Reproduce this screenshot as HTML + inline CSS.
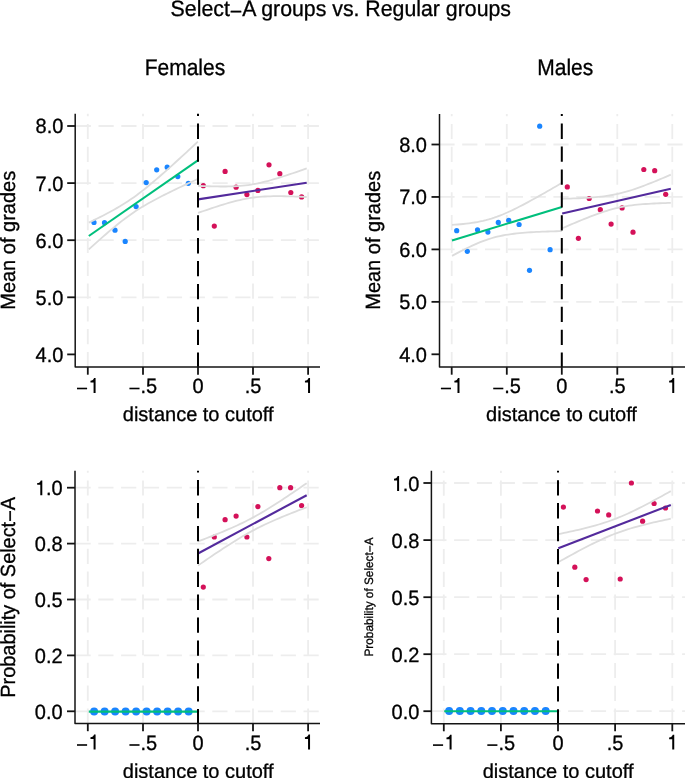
<!DOCTYPE html>
<html><head><meta charset="utf-8"><style>html,body{margin:0;padding:0;background:#fff;overflow:hidden}svg{display:block;will-change:transform}text{stroke:#000;stroke-width:0.3px}</style></head>
<body>
<svg width="685" height="778" viewBox="0 0 685 778" text-rendering="geometricPrecision" font-family='"Liberation Sans", sans-serif' fill="#000">
<rect width="685" height="778" fill="#fff"/>
<text transform="translate(340.8,16.3) scale(1,1.04)" x="0" y="0" text-anchor="middle" font-size="21.3">Select<tspan dy="2.4">&#8722;</tspan><tspan dy="-2.4">A groups vs. Regular groups</tspan></text>
<text transform="translate(184.9,74.9) scale(1,1.08)" text-anchor="middle" font-size="21">Females</text>
<text transform="translate(565.25,74.9) scale(1,1.08)" text-anchor="middle" font-size="21">Males</text>
<line x1="75.7" y1="126.0" x2="320" y2="126.0" stroke="#ededed" stroke-width="1.8" stroke-dasharray="15.2 7.6"/>
<line x1="75.7" y1="183.1" x2="320" y2="183.1" stroke="#ededed" stroke-width="1.8" stroke-dasharray="15.2 7.6"/>
<line x1="75.7" y1="240.2" x2="320" y2="240.2" stroke="#ededed" stroke-width="1.8" stroke-dasharray="15.2 7.6"/>
<line x1="75.7" y1="297.3" x2="320" y2="297.3" stroke="#ededed" stroke-width="1.8" stroke-dasharray="15.2 7.6"/>
<line x1="87.8" y1="367.1" x2="87.8" y2="113.7" stroke="#ededed" stroke-width="1.8" stroke-dasharray="15.2 7.6"/>
<line x1="143.0" y1="367.1" x2="143.0" y2="113.7" stroke="#ededed" stroke-width="1.8" stroke-dasharray="15.2 7.6"/>
<line x1="253.0" y1="367.1" x2="253.0" y2="113.7" stroke="#ededed" stroke-width="1.8" stroke-dasharray="15.2 7.6"/>
<line x1="308.1" y1="367.1" x2="308.1" y2="113.7" stroke="#ededed" stroke-width="1.8" stroke-dasharray="15.2 7.6"/>
<circle cx="94.0" cy="222.4" r="2.6" fill="#1a85ff"/>
<circle cx="104.5" cy="222.7" r="2.6" fill="#1a85ff"/>
<circle cx="115.0" cy="230.2" r="2.6" fill="#1a85ff"/>
<circle cx="125.2" cy="241.4" r="2.6" fill="#1a85ff"/>
<circle cx="136.1" cy="206.6" r="2.6" fill="#1a85ff"/>
<circle cx="146.2" cy="182.6" r="2.6" fill="#1a85ff"/>
<circle cx="156.7" cy="169.8" r="2.6" fill="#1a85ff"/>
<circle cx="167.2" cy="167.2" r="2.6" fill="#1a85ff"/>
<circle cx="177.8" cy="176.6" r="2.6" fill="#1a85ff"/>
<circle cx="188.3" cy="183.3" r="2.6" fill="#1a85ff"/>
<circle cx="203.3" cy="185.7" r="2.6" fill="#d41159"/>
<circle cx="214.3" cy="226.1" r="2.6" fill="#d41159"/>
<circle cx="225.1" cy="171.4" r="2.6" fill="#d41159"/>
<circle cx="236.1" cy="187.2" r="2.6" fill="#d41159"/>
<circle cx="246.9" cy="194.6" r="2.6" fill="#d41159"/>
<circle cx="257.9" cy="190.4" r="2.6" fill="#d41159"/>
<circle cx="269.0" cy="164.8" r="2.6" fill="#d41159"/>
<circle cx="279.8" cy="173.7" r="2.6" fill="#d41159"/>
<circle cx="290.8" cy="192.5" r="2.6" fill="#d41159"/>
<circle cx="301.6" cy="196.9" r="2.6" fill="#d41159"/>
<polyline points="88.80,222.61 91.60,221.26 94.39,219.90 97.19,218.52 99.99,217.12 102.79,215.70 105.58,214.25 108.38,212.78 111.18,211.27 113.98,209.72 116.77,208.14 119.57,206.50 122.37,204.81 125.17,203.06 127.96,201.25 130.76,199.36 133.56,197.41 136.36,195.40 139.15,193.31 141.95,191.16 144.75,188.95 147.55,186.70 150.34,184.39 153.14,182.04 155.94,179.66 158.74,177.24 161.53,174.80 164.33,172.33 167.13,169.84 169.93,167.34 172.72,164.81 175.52,162.28 178.32,159.73 181.12,157.18 183.91,154.61 186.71,152.04 189.51,149.46 192.31,146.87 195.10,144.27 197.90,141.68" fill="none" stroke="#dcdcdc" stroke-width="1.8"/>
<polyline points="88.80,249.39 91.60,246.86 94.39,244.34 97.19,241.84 99.99,239.35 102.79,236.89 105.58,234.46 108.38,232.05 111.18,229.67 113.98,227.34 116.77,225.04 119.57,222.80 122.37,220.61 125.17,218.47 127.96,216.41 130.76,214.40 133.56,212.47 136.36,210.61 139.15,208.81 141.95,207.08 144.75,205.40 147.55,203.78 150.34,202.21 153.14,200.67 155.94,199.17 158.74,197.71 161.53,196.27 164.33,194.86 167.13,193.46 169.93,192.08 172.72,190.72 175.52,189.38 178.32,188.04 181.12,186.72 183.91,185.40 186.71,184.09 189.51,182.79 192.31,181.50 195.10,180.21 197.90,178.92" fill="none" stroke="#dcdcdc" stroke-width="1.8"/>
<polyline points="198.00,185.86 200.79,185.98 203.57,186.09 206.36,186.18 209.15,186.27 211.94,186.35 214.72,186.41 217.51,186.46 220.30,186.49 223.08,186.50 225.87,186.49 228.66,186.45 231.45,186.38 234.23,186.27 237.02,186.12 239.81,185.93 242.59,185.69 245.38,185.40 248.17,185.05 250.96,184.64 253.74,184.17 256.53,183.64 259.32,183.06 262.11,182.42 264.89,181.74 267.68,181.01 270.47,180.25 273.25,179.45 276.04,178.63 278.83,177.77 281.62,176.90 284.40,176.01 287.19,175.09 289.98,174.17 292.76,173.23 295.55,172.28 298.34,171.32 301.13,170.36 303.91,169.38 306.70,168.40" fill="none" stroke="#dcdcdc" stroke-width="1.8"/>
<polyline points="198.00,212.94 200.79,211.96 203.57,211.00 206.36,210.05 209.15,209.10 211.94,208.17 214.72,207.25 217.51,206.34 220.30,205.46 223.08,204.59 225.87,203.75 228.66,202.93 231.45,202.15 234.23,201.40 237.02,200.69 239.81,200.02 242.59,199.40 245.38,198.84 248.17,198.34 250.96,197.89 253.74,197.50 256.53,197.17 259.32,196.90 262.11,196.68 264.89,196.51 267.68,196.38 270.47,196.28 273.25,196.22 276.04,196.19 278.83,196.19 281.62,196.21 284.40,196.25 287.19,196.30 289.98,196.37 292.76,196.45 295.55,196.54 298.34,196.64 301.13,196.76 303.91,196.87 306.70,197.00" fill="none" stroke="#dcdcdc" stroke-width="1.8"/>
<line x1="88.8" y1="236.0" x2="197.9" y2="160.3" stroke="#00bf7c" stroke-width="2.1"/>
<line x1="198.0" y1="199.4" x2="306.7" y2="182.7" stroke="#532a9c" stroke-width="2.1"/>
<line x1="198.0" y1="367.1" x2="198.0" y2="113.7" stroke="#000" stroke-width="2.0" stroke-dasharray="15.3 7.6" stroke-dashoffset="0.8"/>
<polyline points="75.2,113.7 75.2,367.1 320,367.1" fill="none" stroke="#141414" stroke-width="1.5" stroke-linejoin="round"/>
<line x1="67.2" y1="126.0" x2="75.2" y2="126.0" stroke="#141414" stroke-width="1.8"/>
<text transform="translate(63.4,133.4) scale(1,1.035)" text-anchor="end" font-size="20">8.0</text>
<line x1="67.2" y1="183.1" x2="75.2" y2="183.1" stroke="#141414" stroke-width="1.8"/>
<text transform="translate(63.4,190.5) scale(1,1.035)" text-anchor="end" font-size="20">7.0</text>
<line x1="67.2" y1="240.2" x2="75.2" y2="240.2" stroke="#141414" stroke-width="1.8"/>
<text transform="translate(63.4,247.6) scale(1,1.035)" text-anchor="end" font-size="20">6.0</text>
<line x1="67.2" y1="297.3" x2="75.2" y2="297.3" stroke="#141414" stroke-width="1.8"/>
<text transform="translate(63.4,304.7) scale(1,1.035)" text-anchor="end" font-size="20">5.0</text>
<line x1="67.2" y1="354.4" x2="75.2" y2="354.4" stroke="#141414" stroke-width="1.8"/>
<text transform="translate(63.4,361.79999999999995) scale(1,1.035)" text-anchor="end" font-size="20">4.0</text>
<line x1="87.8" y1="367.1" x2="87.8" y2="374.70000000000005" stroke="#141414" stroke-width="1.8"/>
<text transform="translate(87.8,393.0) scale(1,1.035)" text-anchor="middle" font-size="20"><tspan style="fill:none;stroke:none">&#8722;</tspan><tspan style="fill:none;stroke:none">1</tspan></text>
<path transform="translate(76.40,393.0)" d="M0.6-5.3h10.1v1.6h-10.1Z"/>
<path transform="translate(88.08,393.0) scale(1,1.035)" d="M7.5 0L5.5 0L5.5-10.1L2.4-10.1L2.4-11.8C4.2-11.9 5.6-12.9 6.0-14.4L7.5-14.4Z"/>
<line x1="143.0" y1="367.1" x2="143.0" y2="374.70000000000005" stroke="#141414" stroke-width="1.8"/>
<text transform="translate(143.0,393.0) scale(1,1.035)" text-anchor="middle" font-size="20"><tspan style="fill:none;stroke:none">&#8722;</tspan>.5</text>
<path transform="translate(128.82,393.0)" d="M0.6-5.3h10.1v1.6h-10.1Z"/>
<line x1="198.0" y1="367.1" x2="198.0" y2="374.70000000000005" stroke="#141414" stroke-width="1.8"/>
<text transform="translate(198.0,393.0) scale(1,1.035)" text-anchor="middle" font-size="20">0</text>
<line x1="253.0" y1="367.1" x2="253.0" y2="374.70000000000005" stroke="#141414" stroke-width="1.8"/>
<text transform="translate(253.0,393.0) scale(1,1.035)" text-anchor="middle" font-size="20">.5</text>
<line x1="308.1" y1="367.1" x2="308.1" y2="374.70000000000005" stroke="#141414" stroke-width="1.8"/>
<text transform="translate(308.1,393.0) scale(1,1.035)" text-anchor="middle" font-size="20"><tspan style="fill:none;stroke:none">1</tspan></text>
<path transform="translate(302.54,393.0) scale(1,1.035)" d="M7.5 0L5.5 0L5.5-10.1L2.4-10.1L2.4-11.8C4.2-11.9 5.6-12.9 6.0-14.4L7.5-14.4Z"/>
<text x="198.2" y="420.8" text-anchor="middle" font-size="20">distance to cutoff</text>
<text transform="translate(14.9,240.3) rotate(-90) scale(1,1.03)" x="0" y="0" text-anchor="middle" font-size="20">Mean of grades</text>
<line x1="439.4" y1="144.5" x2="685" y2="144.5" stroke="#ededed" stroke-width="1.8" stroke-dasharray="15.2 7.6"/>
<line x1="439.4" y1="196.95" x2="685" y2="196.95" stroke="#ededed" stroke-width="1.8" stroke-dasharray="15.2 7.6"/>
<line x1="439.4" y1="249.4" x2="685" y2="249.4" stroke="#ededed" stroke-width="1.8" stroke-dasharray="15.2 7.6"/>
<line x1="439.4" y1="301.85" x2="685" y2="301.85" stroke="#ededed" stroke-width="1.8" stroke-dasharray="15.2 7.6"/>
<line x1="451.7" y1="367.1" x2="451.7" y2="114.1" stroke="#ededed" stroke-width="1.8" stroke-dasharray="15.2 7.6"/>
<line x1="506.8" y1="367.1" x2="506.8" y2="114.1" stroke="#ededed" stroke-width="1.8" stroke-dasharray="15.2 7.6"/>
<line x1="617.3" y1="367.1" x2="617.3" y2="114.1" stroke="#ededed" stroke-width="1.8" stroke-dasharray="15.2 7.6"/>
<line x1="672.3" y1="367.1" x2="672.3" y2="114.1" stroke="#ededed" stroke-width="1.8" stroke-dasharray="15.2 7.6"/>
<circle cx="456.7" cy="230.7" r="2.6" fill="#1a85ff"/>
<circle cx="467.3" cy="251.3" r="2.6" fill="#1a85ff"/>
<circle cx="477.5" cy="229.8" r="2.6" fill="#1a85ff"/>
<circle cx="487.9" cy="232.1" r="2.6" fill="#1a85ff"/>
<circle cx="498.3" cy="222.4" r="2.6" fill="#1a85ff"/>
<circle cx="508.7" cy="220.3" r="2.6" fill="#1a85ff"/>
<circle cx="519.1" cy="224.5" r="2.6" fill="#1a85ff"/>
<circle cx="529.5" cy="270.3" r="2.6" fill="#1a85ff"/>
<circle cx="539.7" cy="126.2" r="2.6" fill="#1a85ff"/>
<circle cx="550.1" cy="249.7" r="2.6" fill="#1a85ff"/>
<circle cx="567.3" cy="186.9" r="2.6" fill="#d41159"/>
<circle cx="578.4" cy="238.3" r="2.6" fill="#d41159"/>
<circle cx="589.2" cy="198.5" r="2.6" fill="#d41159"/>
<circle cx="600.3" cy="209.7" r="2.6" fill="#d41159"/>
<circle cx="611.1" cy="224.1" r="2.6" fill="#d41159"/>
<circle cx="622.1" cy="207.9" r="2.6" fill="#d41159"/>
<circle cx="633.0" cy="232.2" r="2.6" fill="#d41159"/>
<circle cx="643.8" cy="169.5" r="2.6" fill="#d41159"/>
<circle cx="654.7" cy="170.7" r="2.6" fill="#d41159"/>
<circle cx="665.7" cy="194.3" r="2.6" fill="#d41159"/>
<polyline points="452.00,224.90 454.82,224.71 457.64,224.49 460.45,224.25 463.27,223.98 466.09,223.67 468.91,223.33 471.73,222.95 474.54,222.51 477.36,222.02 480.18,221.47 483.00,220.86 485.82,220.17 488.63,219.41 491.45,218.57 494.27,217.66 497.09,216.67 499.91,215.60 502.72,214.47 505.54,213.28 508.36,212.03 511.18,210.72 513.99,209.37 516.81,207.98 519.63,206.56 522.45,205.10 525.27,203.62 528.08,202.11 530.90,200.58 533.72,199.03 536.54,197.47 539.36,195.89 542.17,194.30 544.99,192.69 547.81,191.08 550.63,189.46 553.45,187.83 556.26,186.19 559.08,184.55 561.90,182.90" fill="none" stroke="#dcdcdc" stroke-width="1.8"/>
<polyline points="452.00,255.90 454.82,254.38 457.64,252.88 460.45,251.41 463.27,249.97 466.09,248.56 468.91,247.19 471.73,245.87 474.54,244.59 477.36,243.36 480.18,242.20 483.00,241.10 485.82,240.08 488.63,239.13 491.45,238.25 494.27,237.45 497.09,236.73 499.91,236.08 502.72,235.50 505.54,234.98 508.36,234.52 511.18,234.11 513.99,233.74 516.81,233.42 519.63,233.13 522.45,232.88 525.27,232.65 528.08,232.44 530.90,232.26 533.72,232.10 536.54,231.95 539.36,231.81 542.17,231.69 544.99,231.58 547.81,231.48 550.63,231.39 553.45,231.31 556.26,231.23 559.08,231.16 561.90,231.10" fill="none" stroke="#dcdcdc" stroke-width="1.8"/>
<polyline points="562.20,198.75 564.98,198.68 567.77,198.61 570.55,198.53 573.34,198.44 576.12,198.34 578.91,198.23 581.69,198.10 584.48,197.96 587.26,197.80 590.05,197.62 592.83,197.42 595.62,197.19 598.40,196.93 601.18,196.64 603.97,196.30 606.75,195.92 609.54,195.49 612.32,195.01 615.11,194.47 617.89,193.87 620.68,193.21 623.46,192.49 626.25,191.72 629.03,190.89 631.82,190.01 634.60,189.08 637.38,188.12 640.17,187.12 642.95,186.08 645.74,185.02 648.52,183.94 651.31,182.83 654.09,181.71 656.88,180.57 659.66,179.42 662.45,178.25 665.23,177.08 668.02,175.89 670.80,174.70" fill="none" stroke="#dcdcdc" stroke-width="1.8"/>
<polyline points="562.20,228.25 564.98,227.05 567.77,225.85 570.55,224.67 573.34,223.49 576.12,222.33 578.91,221.17 581.69,220.03 584.48,218.90 587.26,217.80 590.05,216.71 592.83,215.65 595.62,214.61 598.40,213.60 601.18,212.63 603.97,211.70 606.75,210.81 609.54,209.98 612.32,209.19 615.11,208.46 617.89,207.80 620.68,207.19 623.46,206.64 626.25,206.15 629.03,205.71 631.82,205.33 634.60,204.98 637.38,204.68 640.17,204.42 642.95,204.18 645.74,203.98 648.52,203.80 651.31,203.63 654.09,203.49 656.88,203.36 659.66,203.25 662.45,203.15 665.23,203.06 668.02,202.97 670.80,202.90" fill="none" stroke="#dcdcdc" stroke-width="1.8"/>
<line x1="452.0" y1="240.4" x2="561.9" y2="207.0" stroke="#00bf7c" stroke-width="2.1"/>
<line x1="562.2" y1="213.5" x2="670.8" y2="188.8" stroke="#532a9c" stroke-width="2.1"/>
<line x1="561.8" y1="367.1" x2="561.8" y2="114.1" stroke="#000" stroke-width="2.0" stroke-dasharray="15.3 7.6" stroke-dashoffset="0.8"/>
<polyline points="439.5,114.1 439.5,367.1 685,367.1" fill="none" stroke="#141414" stroke-width="1.5" stroke-linejoin="round"/>
<line x1="431.5" y1="144.5" x2="439.5" y2="144.5" stroke="#141414" stroke-width="1.8"/>
<text transform="translate(427.0,151.9) scale(1,1.035)" text-anchor="end" font-size="20">8.0</text>
<line x1="431.5" y1="196.95" x2="439.5" y2="196.95" stroke="#141414" stroke-width="1.8"/>
<text transform="translate(427.0,204.35) scale(1,1.035)" text-anchor="end" font-size="20">7.0</text>
<line x1="431.5" y1="249.4" x2="439.5" y2="249.4" stroke="#141414" stroke-width="1.8"/>
<text transform="translate(427.0,256.8) scale(1,1.035)" text-anchor="end" font-size="20">6.0</text>
<line x1="431.5" y1="301.85" x2="439.5" y2="301.85" stroke="#141414" stroke-width="1.8"/>
<text transform="translate(427.0,309.25) scale(1,1.035)" text-anchor="end" font-size="20">5.0</text>
<line x1="431.5" y1="354.3" x2="439.5" y2="354.3" stroke="#141414" stroke-width="1.8"/>
<text transform="translate(427.0,361.7) scale(1,1.035)" text-anchor="end" font-size="20">4.0</text>
<line x1="451.7" y1="367.1" x2="451.7" y2="374.70000000000005" stroke="#141414" stroke-width="1.8"/>
<text transform="translate(451.7,393.0) scale(1,1.035)" text-anchor="middle" font-size="20"><tspan style="fill:none;stroke:none">&#8722;</tspan><tspan style="fill:none;stroke:none">1</tspan></text>
<path transform="translate(440.30,393.0)" d="M0.6-5.3h10.1v1.6h-10.1Z"/>
<path transform="translate(451.98,393.0) scale(1,1.035)" d="M7.5 0L5.5 0L5.5-10.1L2.4-10.1L2.4-11.8C4.2-11.9 5.6-12.9 6.0-14.4L7.5-14.4Z"/>
<line x1="506.8" y1="367.1" x2="506.8" y2="374.70000000000005" stroke="#141414" stroke-width="1.8"/>
<text transform="translate(506.8,393.0) scale(1,1.035)" text-anchor="middle" font-size="20"><tspan style="fill:none;stroke:none">&#8722;</tspan>.5</text>
<path transform="translate(492.62,393.0)" d="M0.6-5.3h10.1v1.6h-10.1Z"/>
<line x1="561.8" y1="367.1" x2="561.8" y2="374.70000000000005" stroke="#141414" stroke-width="1.8"/>
<text transform="translate(561.8,393.0) scale(1,1.035)" text-anchor="middle" font-size="20">0</text>
<line x1="617.3" y1="367.1" x2="617.3" y2="374.70000000000005" stroke="#141414" stroke-width="1.8"/>
<text transform="translate(617.3,393.0) scale(1,1.035)" text-anchor="middle" font-size="20">.5</text>
<line x1="672.3" y1="367.1" x2="672.3" y2="374.70000000000005" stroke="#141414" stroke-width="1.8"/>
<text transform="translate(672.3,393.0) scale(1,1.035)" text-anchor="middle" font-size="20"><tspan style="fill:none;stroke:none">1</tspan></text>
<path transform="translate(666.74,393.0) scale(1,1.035)" d="M7.5 0L5.5 0L5.5-10.1L2.4-10.1L2.4-11.8C4.2-11.9 5.6-12.9 6.0-14.4L7.5-14.4Z"/>
<text x="561.5" y="420.8" text-anchor="middle" font-size="20">distance to cutoff</text>
<text transform="translate(379.5,240.3) rotate(-90) scale(1,1.03)" x="0" y="0" text-anchor="middle" font-size="20">Mean of grades</text>
<line x1="75.5" y1="487.7" x2="320" y2="487.7" stroke="#ededed" stroke-width="1.8" stroke-dasharray="15.2 7.6"/>
<line x1="75.5" y1="543.6" x2="320" y2="543.6" stroke="#ededed" stroke-width="1.8" stroke-dasharray="15.2 7.6"/>
<line x1="75.5" y1="599.5" x2="320" y2="599.5" stroke="#ededed" stroke-width="1.8" stroke-dasharray="15.2 7.6"/>
<line x1="75.5" y1="655.4" x2="320" y2="655.4" stroke="#ededed" stroke-width="1.8" stroke-dasharray="15.2 7.6"/>
<line x1="75.5" y1="711.3" x2="320" y2="711.3" stroke="#ededed" stroke-width="1.8" stroke-dasharray="15.2 7.6"/>
<line x1="87.8" y1="723.6" x2="87.8" y2="470.7" stroke="#ededed" stroke-width="1.8" stroke-dasharray="15.2 7.6"/>
<line x1="143.0" y1="723.6" x2="143.0" y2="470.7" stroke="#ededed" stroke-width="1.8" stroke-dasharray="15.2 7.6"/>
<line x1="253.0" y1="723.6" x2="253.0" y2="470.7" stroke="#ededed" stroke-width="1.8" stroke-dasharray="15.2 7.6"/>
<line x1="308.1" y1="723.6" x2="308.1" y2="470.7" stroke="#ededed" stroke-width="1.8" stroke-dasharray="15.2 7.6"/>
<circle cx="94.1" cy="711.6" r="4.0" fill="#1a85ff"/>
<circle cx="104.6" cy="711.6" r="4.0" fill="#1a85ff"/>
<circle cx="115.1" cy="711.6" r="4.0" fill="#1a85ff"/>
<circle cx="125.6" cy="711.6" r="4.0" fill="#1a85ff"/>
<circle cx="136.1" cy="711.6" r="4.0" fill="#1a85ff"/>
<circle cx="146.6" cy="711.6" r="4.0" fill="#1a85ff"/>
<circle cx="157.1" cy="711.6" r="4.0" fill="#1a85ff"/>
<circle cx="167.6" cy="711.6" r="4.0" fill="#1a85ff"/>
<circle cx="178.1" cy="711.6" r="4.0" fill="#1a85ff"/>
<circle cx="188.6" cy="711.6" r="4.0" fill="#1a85ff"/>
<circle cx="203.3" cy="587.1" r="2.6" fill="#d41159"/>
<circle cx="214.3" cy="537.0" r="2.6" fill="#d41159"/>
<circle cx="225.1" cy="519.7" r="2.6" fill="#d41159"/>
<circle cx="236.1" cy="516.1" r="2.6" fill="#d41159"/>
<circle cx="246.9" cy="537.0" r="2.6" fill="#d41159"/>
<circle cx="257.9" cy="506.6" r="2.6" fill="#d41159"/>
<circle cx="268.8" cy="558.6" r="2.6" fill="#d41159"/>
<circle cx="279.8" cy="487.7" r="2.6" fill="#d41159"/>
<circle cx="290.6" cy="487.7" r="2.6" fill="#d41159"/>
<circle cx="301.6" cy="505.5" r="2.6" fill="#d41159"/>
<polyline points="198.00,541.45 200.79,540.39 203.57,539.32 206.36,538.25 209.15,537.16 211.94,536.07 214.72,534.96 217.51,533.84 220.30,532.71 223.08,531.56 225.87,530.39 228.66,529.19 231.45,527.98 234.23,526.74 237.02,525.47 239.81,524.17 242.59,522.83 245.38,521.46 248.17,520.05 250.96,518.59 253.74,517.10 256.53,515.56 259.32,513.98 262.11,512.37 264.89,510.71 267.68,509.03 270.47,507.31 273.25,505.56 276.04,503.78 278.83,501.98 281.62,500.16 284.40,498.32 287.19,496.47 289.98,494.60 292.76,492.72 295.55,490.82 298.34,488.92 301.13,487.00 303.91,485.08 306.70,483.15" fill="none" stroke="#dcdcdc" stroke-width="1.8"/>
<polyline points="198.00,565.55 200.79,563.62 203.57,561.70 206.36,559.78 209.15,557.88 211.94,555.98 214.72,554.10 217.51,552.23 220.30,550.38 223.08,548.54 225.87,546.72 228.66,544.92 231.45,543.14 234.23,541.39 237.02,539.67 239.81,537.99 242.59,536.33 245.38,534.72 248.17,533.14 250.96,531.60 253.74,530.11 256.53,528.65 259.32,527.24 262.11,525.87 264.89,524.53 267.68,523.23 270.47,521.96 273.25,520.72 276.04,519.51 278.83,518.31 281.62,517.14 284.40,515.99 287.19,514.86 289.98,513.74 292.76,512.63 295.55,511.54 298.34,510.45 301.13,509.38 303.91,508.31 306.70,507.25" fill="none" stroke="#dcdcdc" stroke-width="1.8"/>
<line x1="88.8" y1="711.6" x2="198.0" y2="711.6" stroke="#00bf7c" stroke-width="2.1"/>
<line x1="198.0" y1="553.5" x2="306.7" y2="495.2" stroke="#532a9c" stroke-width="2.1"/>
<line x1="198.0" y1="723.6" x2="198.0" y2="470.7" stroke="#000" stroke-width="2.0" stroke-dasharray="15.3 7.6" stroke-dashoffset="0.8"/>
<polyline points="75.0,470.7 75.0,723.6 320,723.6" fill="none" stroke="#141414" stroke-width="1.5" stroke-linejoin="round"/>
<line x1="67.0" y1="487.7" x2="75.0" y2="487.7" stroke="#141414" stroke-width="1.8"/>
<text transform="translate(62.6,495.3) scale(1,1.035)" text-anchor="end" font-size="20"><tspan style="fill:none;stroke:none">1</tspan>.0</text>
<path transform="translate(34.80,495.3) scale(1,1.035)" d="M7.5 0L5.5 0L5.5-10.1L2.4-10.1L2.4-11.8C4.2-11.9 5.6-12.9 6.0-14.4L7.5-14.4Z"/>
<line x1="67.0" y1="543.6" x2="75.0" y2="543.6" stroke="#141414" stroke-width="1.8"/>
<text transform="translate(62.6,551.2) scale(1,1.035)" text-anchor="end" font-size="20">0.8</text>
<line x1="67.0" y1="599.5" x2="75.0" y2="599.5" stroke="#141414" stroke-width="1.8"/>
<text transform="translate(62.6,607.1) scale(1,1.035)" text-anchor="end" font-size="20">0.5</text>
<line x1="67.0" y1="655.4" x2="75.0" y2="655.4" stroke="#141414" stroke-width="1.8"/>
<text transform="translate(62.6,663.0) scale(1,1.035)" text-anchor="end" font-size="20">0.2</text>
<line x1="67.0" y1="711.3" x2="75.0" y2="711.3" stroke="#141414" stroke-width="1.8"/>
<text transform="translate(62.6,718.9) scale(1,1.035)" text-anchor="end" font-size="20">0.0</text>
<line x1="87.8" y1="723.6" x2="87.8" y2="731.2" stroke="#141414" stroke-width="1.8"/>
<text transform="translate(87.8,749.5) scale(1,1.035)" text-anchor="middle" font-size="20"><tspan style="fill:none;stroke:none">&#8722;</tspan><tspan style="fill:none;stroke:none">1</tspan></text>
<path transform="translate(76.40,749.5)" d="M0.6-5.3h10.1v1.6h-10.1Z"/>
<path transform="translate(88.08,749.5) scale(1,1.035)" d="M7.5 0L5.5 0L5.5-10.1L2.4-10.1L2.4-11.8C4.2-11.9 5.6-12.9 6.0-14.4L7.5-14.4Z"/>
<line x1="143.0" y1="723.6" x2="143.0" y2="731.2" stroke="#141414" stroke-width="1.8"/>
<text transform="translate(143.0,749.5) scale(1,1.035)" text-anchor="middle" font-size="20"><tspan style="fill:none;stroke:none">&#8722;</tspan>.5</text>
<path transform="translate(128.82,749.5)" d="M0.6-5.3h10.1v1.6h-10.1Z"/>
<line x1="198.0" y1="723.6" x2="198.0" y2="731.2" stroke="#141414" stroke-width="1.8"/>
<text transform="translate(198.0,749.5) scale(1,1.035)" text-anchor="middle" font-size="20">0</text>
<line x1="253.0" y1="723.6" x2="253.0" y2="731.2" stroke="#141414" stroke-width="1.8"/>
<text transform="translate(253.0,749.5) scale(1,1.035)" text-anchor="middle" font-size="20">.5</text>
<line x1="308.1" y1="723.6" x2="308.1" y2="731.2" stroke="#141414" stroke-width="1.8"/>
<text transform="translate(308.1,749.5) scale(1,1.035)" text-anchor="middle" font-size="20"><tspan style="fill:none;stroke:none">1</tspan></text>
<path transform="translate(302.54,749.5) scale(1,1.035)" d="M7.5 0L5.5 0L5.5-10.1L2.4-10.1L2.4-11.8C4.2-11.9 5.6-12.9 6.0-14.4L7.5-14.4Z"/>
<text x="198.2" y="778.0" text-anchor="middle" font-size="20">distance to cutoff</text>
<text transform="translate(14.9,597.3) rotate(-90) scale(1,1.03)" x="0" y="0" text-anchor="middle" font-size="19.9">Probability of Select<tspan dy="2.3">&#8722;</tspan><tspan dy="-2.3">A</tspan></text>
<line x1="431.3" y1="483.0" x2="685" y2="483.0" stroke="#ededed" stroke-width="1.8" stroke-dasharray="15.2 7.6"/>
<line x1="431.3" y1="540.1" x2="685" y2="540.1" stroke="#ededed" stroke-width="1.8" stroke-dasharray="15.2 7.6"/>
<line x1="431.3" y1="597.2" x2="685" y2="597.2" stroke="#ededed" stroke-width="1.8" stroke-dasharray="15.2 7.6"/>
<line x1="431.3" y1="654.2" x2="685" y2="654.2" stroke="#ededed" stroke-width="1.8" stroke-dasharray="15.2 7.6"/>
<line x1="431.3" y1="711.2" x2="685" y2="711.2" stroke="#ededed" stroke-width="1.8" stroke-dasharray="15.2 7.6"/>
<line x1="443.8" y1="723.7" x2="443.8" y2="470.7" stroke="#ededed" stroke-width="1.8" stroke-dasharray="15.2 7.6"/>
<line x1="500.9" y1="723.7" x2="500.9" y2="470.7" stroke="#ededed" stroke-width="1.8" stroke-dasharray="15.2 7.6"/>
<line x1="615.1" y1="723.7" x2="615.1" y2="470.7" stroke="#ededed" stroke-width="1.8" stroke-dasharray="15.2 7.6"/>
<line x1="672.3" y1="723.7" x2="672.3" y2="470.7" stroke="#ededed" stroke-width="1.8" stroke-dasharray="15.2 7.6"/>
<circle cx="449.1" cy="711.1" r="4.0" fill="#1a85ff"/>
<circle cx="459.83000000000004" cy="711.1" r="4.0" fill="#1a85ff"/>
<circle cx="470.56" cy="711.1" r="4.0" fill="#1a85ff"/>
<circle cx="481.29" cy="711.1" r="4.0" fill="#1a85ff"/>
<circle cx="492.02000000000004" cy="711.1" r="4.0" fill="#1a85ff"/>
<circle cx="502.75" cy="711.1" r="4.0" fill="#1a85ff"/>
<circle cx="513.48" cy="711.1" r="4.0" fill="#1a85ff"/>
<circle cx="524.21" cy="711.1" r="4.0" fill="#1a85ff"/>
<circle cx="534.94" cy="711.1" r="4.0" fill="#1a85ff"/>
<circle cx="545.6700000000001" cy="711.1" r="4.0" fill="#1a85ff"/>
<circle cx="563.4" cy="507.1" r="2.6" fill="#d41159"/>
<circle cx="574.8" cy="567.2" r="2.6" fill="#d41159"/>
<circle cx="586.1" cy="579.6" r="2.6" fill="#d41159"/>
<circle cx="597.5" cy="511.0" r="2.6" fill="#d41159"/>
<circle cx="608.7" cy="514.9" r="2.6" fill="#d41159"/>
<circle cx="620.2" cy="579.0" r="2.6" fill="#d41159"/>
<circle cx="631.4" cy="483.0" r="2.6" fill="#d41159"/>
<circle cx="642.6" cy="521.2" r="2.6" fill="#d41159"/>
<circle cx="654.1" cy="503.5" r="2.6" fill="#d41159"/>
<circle cx="665.5" cy="508.0" r="2.6" fill="#d41159"/>
<polyline points="558.30,534.20 561.18,533.60 564.07,532.99 566.95,532.37 569.84,531.74 572.72,531.10 575.61,530.45 578.49,529.78 581.38,529.09 584.26,528.39 587.15,527.66 590.03,526.92 592.92,526.14 595.80,525.34 598.68,524.50 601.57,523.62 604.45,522.71 607.34,521.75 610.22,520.75 613.11,519.69 615.99,518.59 618.88,517.44 621.76,516.24 624.65,515.00 627.53,513.71 630.42,512.38 633.30,511.01 636.18,509.61 639.07,508.18 641.95,506.71 644.84,505.23 647.72,503.72 650.61,502.19 653.49,500.64 656.38,499.08 659.26,497.51 662.15,495.92 665.03,494.32 667.92,492.72 670.80,491.10" fill="none" stroke="#dcdcdc" stroke-width="1.8"/>
<polyline points="558.30,562.20 561.18,560.58 564.07,558.97 566.95,557.37 569.84,555.78 572.72,554.20 575.61,552.63 578.49,551.08 581.38,549.54 584.26,548.03 587.15,546.53 590.03,545.06 592.92,543.61 595.80,542.20 598.68,540.82 601.57,539.47 604.45,538.16 607.34,536.90 610.22,535.69 613.11,534.52 615.99,533.40 618.88,532.33 621.76,531.30 624.65,530.33 627.53,529.40 630.42,528.51 633.30,527.65 636.18,526.84 639.07,526.05 641.95,525.29 644.84,524.56 647.72,523.85 650.61,523.15 653.49,522.48 656.38,521.82 659.26,521.17 662.15,520.54 665.03,519.92 667.92,519.30 670.80,518.70" fill="none" stroke="#dcdcdc" stroke-width="1.8"/>
<line x1="444.2" y1="711.2" x2="558.0" y2="711.2" stroke="#00bf7c" stroke-width="2.1"/>
<line x1="558.3" y1="548.2" x2="670.8" y2="504.9" stroke="#532a9c" stroke-width="2.1"/>
<line x1="558.0" y1="723.7" x2="558.0" y2="470.7" stroke="#000" stroke-width="2.0" stroke-dasharray="15.3 7.6" stroke-dashoffset="0.8"/>
<polyline points="431.4,470.7 431.4,723.7 685,723.7" fill="none" stroke="#141414" stroke-width="1.5" stroke-linejoin="round"/>
<line x1="423.4" y1="483.0" x2="431.4" y2="483.0" stroke="#141414" stroke-width="1.8"/>
<text transform="translate(419.4,490.9) scale(1,1.035)" text-anchor="end" font-size="20"><tspan style="fill:none;stroke:none">1</tspan>.0</text>
<path transform="translate(391.60,490.9) scale(1,1.035)" d="M7.5 0L5.5 0L5.5-10.1L2.4-10.1L2.4-11.8C4.2-11.9 5.6-12.9 6.0-14.4L7.5-14.4Z"/>
<line x1="423.4" y1="540.1" x2="431.4" y2="540.1" stroke="#141414" stroke-width="1.8"/>
<text transform="translate(419.4,548.0) scale(1,1.035)" text-anchor="end" font-size="20">0.8</text>
<line x1="423.4" y1="597.2" x2="431.4" y2="597.2" stroke="#141414" stroke-width="1.8"/>
<text transform="translate(419.4,605.1) scale(1,1.035)" text-anchor="end" font-size="20">0.5</text>
<line x1="423.4" y1="654.2" x2="431.4" y2="654.2" stroke="#141414" stroke-width="1.8"/>
<text transform="translate(419.4,662.1) scale(1,1.035)" text-anchor="end" font-size="20">0.2</text>
<line x1="423.4" y1="711.2" x2="431.4" y2="711.2" stroke="#141414" stroke-width="1.8"/>
<text transform="translate(419.4,719.1) scale(1,1.035)" text-anchor="end" font-size="20">0.0</text>
<line x1="443.8" y1="723.7" x2="443.8" y2="731.3000000000001" stroke="#141414" stroke-width="1.8"/>
<text transform="translate(443.8,749.6) scale(1,1.035)" text-anchor="middle" font-size="20"><tspan style="fill:none;stroke:none">&#8722;</tspan><tspan style="fill:none;stroke:none">1</tspan></text>
<path transform="translate(432.40,749.6)" d="M0.6-5.3h10.1v1.6h-10.1Z"/>
<path transform="translate(444.08,749.6) scale(1,1.035)" d="M7.5 0L5.5 0L5.5-10.1L2.4-10.1L2.4-11.8C4.2-11.9 5.6-12.9 6.0-14.4L7.5-14.4Z"/>
<line x1="500.9" y1="723.7" x2="500.9" y2="731.3000000000001" stroke="#141414" stroke-width="1.8"/>
<text transform="translate(500.9,749.6) scale(1,1.035)" text-anchor="middle" font-size="20"><tspan style="fill:none;stroke:none">&#8722;</tspan>.5</text>
<path transform="translate(486.72,749.6)" d="M0.6-5.3h10.1v1.6h-10.1Z"/>
<line x1="558.0" y1="723.7" x2="558.0" y2="731.3000000000001" stroke="#141414" stroke-width="1.8"/>
<text transform="translate(558.0,749.6) scale(1,1.035)" text-anchor="middle" font-size="20">0</text>
<line x1="615.1" y1="723.7" x2="615.1" y2="731.3000000000001" stroke="#141414" stroke-width="1.8"/>
<text transform="translate(615.1,749.6) scale(1,1.035)" text-anchor="middle" font-size="20">.5</text>
<line x1="672.3" y1="723.7" x2="672.3" y2="731.3000000000001" stroke="#141414" stroke-width="1.8"/>
<text transform="translate(672.3,749.6) scale(1,1.035)" text-anchor="middle" font-size="20"><tspan style="fill:none;stroke:none">1</tspan></text>
<path transform="translate(666.74,749.6) scale(1,1.035)" d="M7.5 0L5.5 0L5.5-10.1L2.4-10.1L2.4-11.8C4.2-11.9 5.6-12.9 6.0-14.4L7.5-14.4Z"/>
<text x="558.1" y="778.0" text-anchor="middle" font-size="20">distance to cutoff</text>
<text transform="translate(372.8,597.0) rotate(-90) scale(1,1.03)" x="0" y="0" text-anchor="middle" font-size="11.8">Probability of Select<tspan dy="1.4">&#8722;</tspan><tspan dy="-1.4">A</tspan></text>
</svg>
</body></html>
